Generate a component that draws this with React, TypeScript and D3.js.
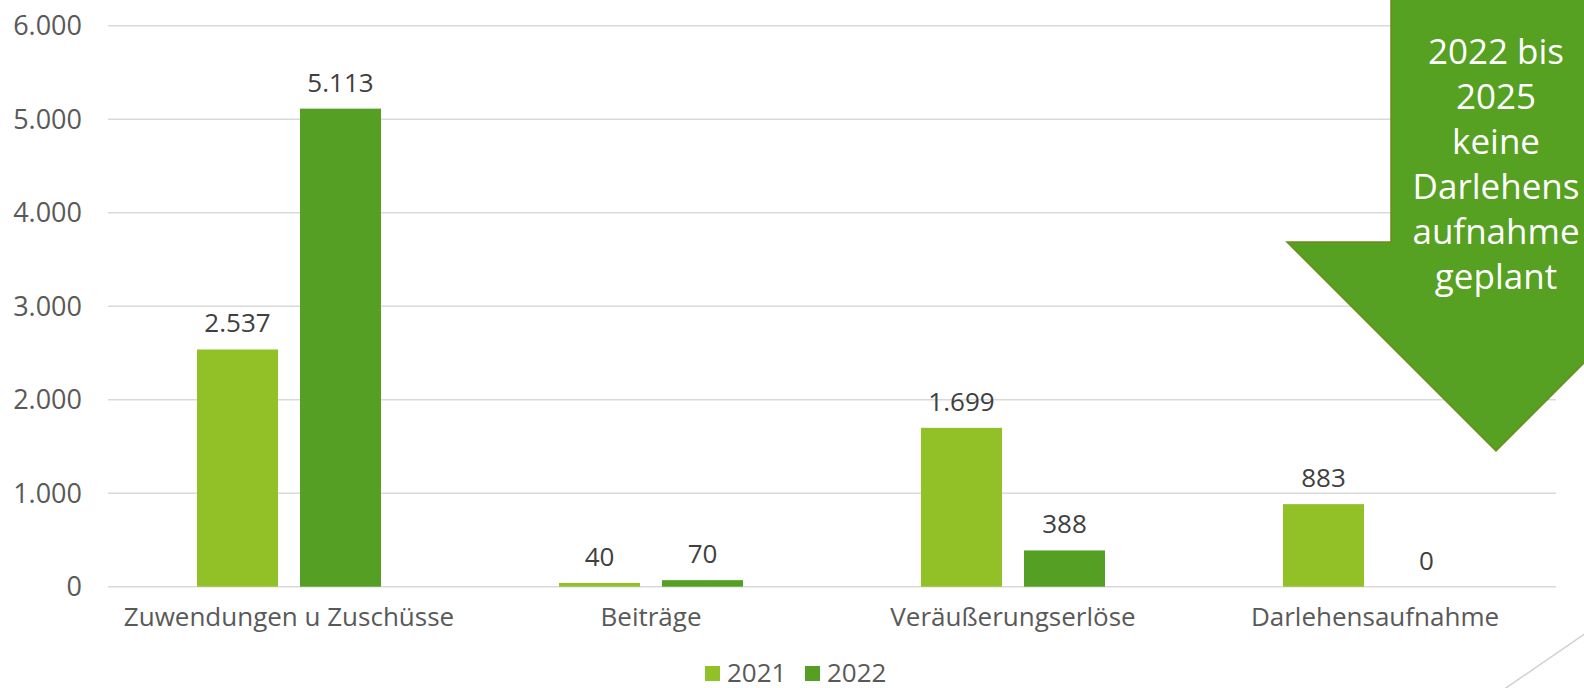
import React from 'react'
import * as d3 from 'd3'

const categories = ['Zuwendungen u Zuschüsse', 'Beiträge', 'Veräußerungserlöse', 'Darlehensaufnahme']
const seriesNames = ['2021', '2022']
const values2021 = [2537, 40, 1699, 883]
const values2022 = [5113, 70, 388, 0]
const yTicks = [0, 1000, 2000, 3000, 4000, 5000, 6000]
const arrowLines = ['2022 bis', '2025', 'keine', 'Darlehens', 'aufnahme', 'geplant']

const colors = ['#92C027', '#55A024']
const W = 1584
const H = 688
const FONT = '"Open Sans", "Noto Sans", sans-serif'

const fmt = (v: number) => v.toLocaleString('de-DE')

export default function App() {
  const margin = { left: 108, right: 28, top: 25.7, bottom: 101.3 }
  const innerW = W - margin.left - margin.right
  const innerH = H - margin.top - margin.bottom

  const x0 = d3.scaleBand<string>().domain(categories).range([0, innerW]).padding(0)
  const x1 = d3
    .scaleBand<string>()
    .domain(seriesNames)
    .range([0, x0.bandwidth()])
    .paddingInner(0.2136)
    .paddingOuter(0.864)
  const y = d3.scaleLinear().domain([0, 6000]).range([innerH, 0])

  const series = [values2021, values2022]

  // arrow geometry (pixel layout of the callout)
  const ax = 1496
  const shaftHalf = 105
  const headHalf = 209
  const shaftBottom = 242
  const tipY = 451
  const arrowPath = `M${ax - shaftHalf},-2 L${ax - shaftHalf},${shaftBottom} L${ax - headHalf},${shaftBottom} L${ax},${tipY} L${ax + headHalf},${shaftBottom} L${ax + shaftHalf},${shaftBottom} L${ax + shaftHalf},-2 Z`

  return (
    <div style={{ position: 'absolute', left: 0, top: 0, width: W, height: H, background: '#fff' }}>
      <svg width={W} height={H} style={{ display: 'block', fontFamily: FONT }}>
        <g transform={`translate(${margin.left},${margin.top})`}>
          {yTicks.map((t) => (
            <g key={t} transform={`translate(0,${y(t)})`}>
              <line x1={0} x2={innerW} stroke="#D9D9D9" strokeWidth={1.5} />
              <text x={-26} dy="0.36em" textAnchor="end" fontSize={27} fill="#595959">
                {fmt(t)}
              </text>
            </g>
          ))}

          {categories.map((c, ci) => (
            <g key={c} transform={`translate(${x0(c)},0)`}>
              {seriesNames.map((s, si) => {
                const v = series[si][ci]
                const bx = x1(s)!
                return (
                  <g key={s}>
                    <rect x={bx} y={y(v)} width={x1.bandwidth()} height={innerH - y(v)} fill={colors[si]} />
                    <text
                      x={bx + x1.bandwidth() / 2}
                      y={y(v) - 17}
                      textAnchor="middle"
                      fontSize={26}
                      fill="#404040"
                    >
                      {fmt(v)}
                    </text>
                  </g>
                )
              })}
              <text x={x0.bandwidth() / 2} y={innerH + 39} textAnchor="middle" fontSize={26} fill="#595959">
                {c}
              </text>
            </g>
          ))}
        </g>

        {/* legend */}
        <g transform="translate(705,666)">
          {seriesNames.map((s, i) => (
            <g key={s} transform={`translate(${i * 100},0)`}>
              <rect width={15} height={15} fill={colors[i]} />
              <text x={22} y={16} fontSize={26} fill="#595959">
                {s}
              </text>
            </g>
          ))}
        </g>

        {/* callout arrow */}
        <path d={arrowPath} fill="#56A022" stroke="#6E8B1E" strokeWidth={1.5} />
        {arrowLines.map((l, i) => (
          <text key={i} x={ax} y={64 + i * 45} textAnchor="middle" fontSize={35} fill="#fff">
            {l}
          </text>
        ))}

        {/* slide decoration */}
        <line x1={1503} y1={690} x2={1586} y2={633} stroke="#D0D0D0" strokeWidth={1.5} />
      </svg>
    </div>
  )
}
